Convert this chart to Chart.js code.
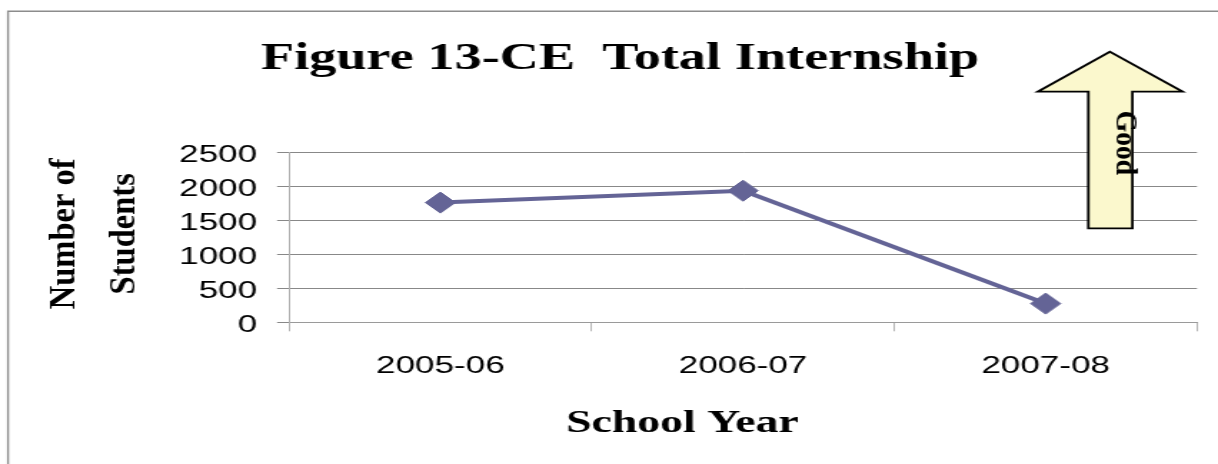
<!DOCTYPE html>
<html>
<head>
<meta charset="utf-8">
<script src="https://cdn.jsdelivr.net/npm/chart.js@4.4.1/dist/chart.umd.min.js"></script>
<style>
  html, body { margin: 0; padding: 0; background: #ffffff; overflow: hidden; }
  #wrap { width: 852px; height: 464px; transform: scaleX(1.42958); transform-origin: 0 0; }
</style>
</head>
<body>
<div id="wrap"><canvas id="c" width="852" height="464"></canvas></div>
<script>
// ---- data ----
const categories = ['2005-06', '2006-07', '2007-08'];
const students = [1760, 1935, 275];
const yTickValues = [0, 500, 1000, 1500, 2000, 2500];
const chartTitle = 'Figure 13-CE  Total Internship';
const xTitle = 'School Year';
const yTitleLines = ['Number of', 'Students'];
const arrowLabel = 'Good';

const S = 1218 / 852; // horizontal stretch applied by CSS

const decor = {
  id: 'decor',
  beforeDraw(chart) {
    const ctx = chart.ctx;
    ctx.save();
    ctx.fillStyle = '#ffffff';
    ctx.fillRect(0, 0, chart.width, chart.height);
    // outer frame (left + top visible)
    ctx.strokeStyle = '#8c8c8c';
    ctx.lineWidth = 1.4;
    ctx.beginPath();
    ctx.moveTo(5.6, 480);
    ctx.lineTo(5.6, 11.2);
    ctx.lineTo(900, 11.2);
    ctx.stroke();
    ctx.restore();
  },
  afterDraw(chart) {
    const ctx = chart.ctx;
    ctx.save();
    ctx.fillStyle = '#000000';
    // chart title
    ctx.font = 'bold 38px "Liberation Serif"';
    ctx.textAlign = 'center';
    ctx.textBaseline = 'alphabetic';
    ctx.fillText(chartTitle, 433.7, 69);
    // x axis title
    ctx.font = 'bold 32px "Liberation Serif"';
    ctx.fillText(xTitle, 477.4, 431.5);
    // y axis title (two rotated lines, not stretched)
    const yc = (chart.chartArea.top + chart.chartArea.bottom) / 2 - 3.5;
    const ybase = [52.2, 94.2];
    ctx.font = 'bold 35px "Liberation Serif"';
    yTitleLines.forEach((t, i) => {
      ctx.save();
      ctx.translate(ybase[i], yc);
      ctx.scale(1 / S, 1);
      ctx.rotate(-Math.PI / 2);
      ctx.scale(0.93, 1);
      ctx.fillText(t, 0, 0);
      ctx.restore();
    });
    // "Good" arrow
    ctx.beginPath();
    ctx.moveTo(776.4, 51.7);
    ctx.lineTo(827.3, 91.7);
    ctx.lineTo(792.1, 91.7);
    ctx.lineTo(792.1, 228.3);
    ctx.lineTo(761.3, 228.3);
    ctx.lineTo(761.3, 91.7);
    ctx.lineTo(725.9, 91.7);
    ctx.closePath();
    ctx.fillStyle = '#fbf8cd';
    ctx.fill();
    ctx.lineWidth = 1.8;
    ctx.lineJoin = 'miter';
    ctx.strokeStyle = '#000000';
    ctx.stroke();
    ctx.fillStyle = '#000000';
    ctx.save();
    ctx.translate(781.1, 143);
    ctx.scale(1 / S, 1);
    ctx.rotate(Math.PI / 2);
    ctx.scale(0.92, 1);
    ctx.font = 'bold 30px "Liberation Serif"';
    ctx.textAlign = 'center';
    ctx.fillText(arrowLabel, 0, 0);
    ctx.restore();
    ctx.restore();
  }
};

new Chart(document.getElementById('c'), {
  type: 'line',
  data: {
    labels: categories,
    datasets: [{
      data: students,
      borderColor: '#646496',
      backgroundColor: '#646496',
      borderWidth: 4,
      tension: 0,
      pointStyle: 'rectRot',
      pointRadius: 10.5,
      pointBorderWidth: 1,
      pointBackgroundColor: '#646496',
      pointBorderColor: '#646496'
    }]
  },
  options: {
    responsive: false,
    animation: false,
    devicePixelRatio: 1,
    layout: { padding: { top: 152.3, right: 14.7, left: 0, bottom: 0 } },
    plugins: { legend: { display: false }, title: { display: false }, tooltip: { enabled: false } },
    scales: {
      x: {
        type: 'category',
        offset: true,
        afterFit(scale) { scale.height = 141.7; },
        grid: { display: true, offset: true, drawOnChartArea: false, drawTicks: true, tickLength: 9, color: '#b4b4b4', lineWidth: 1 },
        border: { display: true, color: '#9a9a9a', width: 1 },
        ticks: { color: '#000000', padding: 20, maxRotation: 0, autoSkip: false, font: { family: '"Liberation Sans"', size: 24.5 } }
      },
      y: {
        min: yTickValues[0],
        max: yTickValues[yTickValues.length - 1],
        afterFit(scale) { scale.width = 202.2; },
        afterBuildTicks(scale) { scale.ticks = yTickValues.map(v => ({ value: v })); },
        grid: { color: '#888888', lineWidth: 1, drawTicks: true, tickLength: 8.4 },
        border: { display: true, color: '#b0b0b0', width: 1 },
        ticks: {
          color: '#000000', padding: 14, labelOffset: 3,
          callback: (v) => String(v),
          font: { family: '"Liberation Sans"', size: 24.5 }
        }
      }
    }
  },
  plugins: [decor]
});
</script>
</body>
</html>
